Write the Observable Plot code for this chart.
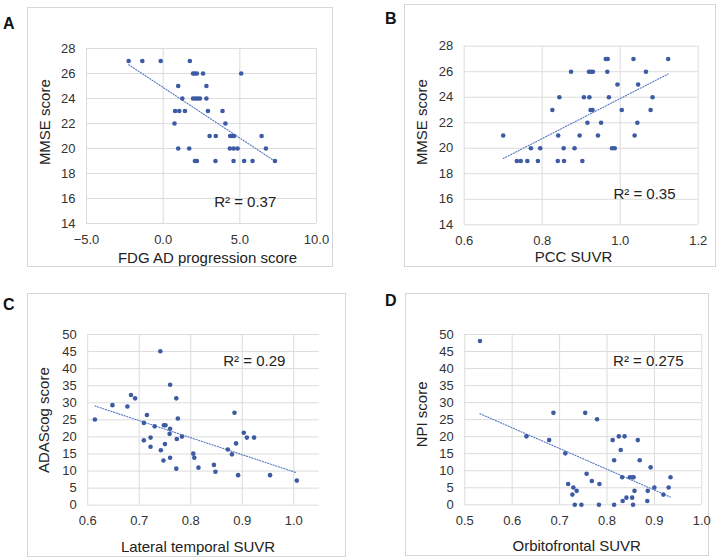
<!DOCTYPE html>
<html>
<head>
<meta charset="utf-8">
<script src="https://cdn.jsdelivr.net/npm/d3@7"></script>
<script src="https://cdn.jsdelivr.net/npm/@observablehq/plot@0.6"></script>
<style>
  html, body { margin: 0; padding: 0; background: #fff; }
  #root { position: relative; width: 724px; height: 560px; overflow: hidden; font-family: "Liberation Sans", Arial, sans-serif; }
  .box { position: absolute; box-sizing: border-box; border: 1.5px solid #d6d6d6; }
  .letter { position: absolute; font-weight: bold; font-size: 16px; line-height: 16px; color: #111; }
  .panel { position: absolute; }
</style>
</head>
<body>
<div id="root"></div>
<script>
// ---------- Data ----------
// Panel A: FDG AD progression score vs MMSE
const aX = [-2.25, -1.36, -0.16, 1.74,
            1.95, 2.05, 2.2, 2.6, 5.09,
            0.98, 2.82,
            1.25, 1.95, 2.1, 2.25, 2.4, 2.82,
            0.78, 1.05, 1.42, 2.92, 3.87,
            0.74, 4.06,
            3.03, 3.43, 4.37, 4.5, 4.62, 6.42,
            0.98, 1.7, 4.35, 4.6, 4.85, 6.7,
            2.07, 2.2, 3.41, 4.59, 5.28, 5.83, 7.29];
const aY = [27, 27, 27, 27,
            26, 26, 26, 26, 26,
            25, 25,
            24, 24, 24, 24, 24, 24,
            23, 23, 23, 23, 23,
            22, 22,
            21, 21, 21, 21, 21, 21,
            20, 20, 20, 20, 20, 20,
            19, 19, 19, 19, 19, 19, 19];

// Panel B: PCC SUVR vs MMSE
const bX = [0.963, 0.968, 1.034, 1.123,
            0.874, 0.920, 0.925, 0.930, 0.967, 1.066,
            0.993, 1.046,
            0.844, 0.907, 0.921, 0.971, 1.083,
            0.826, 0.924, 0.929, 1.004, 1.078,
            0.916, 0.951, 1.044,
            0.700, 0.841, 0.896, 0.943, 1.037,
            0.771, 0.795, 0.855, 0.883, 0.979, 0.986,
            0.735, 0.745, 0.762, 0.789, 0.840, 0.856, 0.903];
const bY = [27, 27, 27, 27,
            26, 26, 26, 26, 26, 26,
            25, 25,
            24, 24, 24, 24, 24,
            23, 23, 23, 23, 23,
            22, 22, 22,
            21, 21, 21, 21, 21,
            20, 20, 20, 20, 20, 20,
            19, 19, 19, 19, 19, 19, 19];

// Panel C: Lateral temporal SUVR vs ADAScog
const cX = [0.614, 0.648, 0.677, 0.684, 0.692, 0.709, 0.715, 0.709, 0.722, 0.722,
            0.730, 0.741, 0.742, 0.747, 0.748, 0.751, 0.750, 0.760, 0.760, 0.759,
            0.760, 0.772, 0.773, 0.772, 0.775, 0.783, 0.805, 0.807, 0.815, 0.845,
            0.848, 0.872, 0.880, 0.885, 0.888, 0.892, 0.903, 0.909, 0.923, 0.954, 1.006];
const cY = [25.1, 29.3, 28.9, 32.3, 31.3, 24.1, 26.4, 19.0, 19.8, 17.1,
            23.1, 45.1, 16.1, 13.1, 23.4, 23.4, 17.9, 35.3, 22.4, 20.9,
            13.9, 31.3, 19.4, 10.7, 25.4, 20.1, 15.1, 13.9, 11.0, 11.8,
            9.8, 16.3, 14.9, 27.1, 18.1, 8.8, 21.2, 19.8, 19.8, 8.8, 7.2];

// Panel D: Orbitofrontal SUVR vs NPI
const dX = [0.532, 0.630, 0.678, 0.687, 0.712, 0.718, 0.729, 0.727, 0.736, 0.732,
            0.746, 0.754, 0.757, 0.768, 0.779, 0.784, 0.783, 0.812, 0.815, 0.815,
            0.825, 0.829, 0.832, 0.833, 0.837, 0.841, 0.848, 0.854, 0.856, 0.853,
            0.855, 0.858, 0.865, 0.869, 0.886, 0.885, 0.892, 0.900, 0.919, 0.930, 0.934];
const dY = [48.1, 20.1, 19.0, 27.0, 15.1, 6.1, 5.1, 3.0, 4.1, 0,
            0, 27.0, 9.1, 7.0, 25.1, 6.1, 0, 19.0, 13.1, 0,
            20.1, 16.1, 8.1, 1.1, 20.1, 2.1, 8.1, 8.1, 8.1, 2.1,
            0, 4.1, 19.0, 13.1, 4.1, 1.1, 11.0, 5.1, 3.0, 5.1, 8.1];

// Axis ticks
const aXTicks = [-5, 0, 5, 10];
const mmseTicks = [14, 16, 18, 20, 22, 24, 26, 28];
const bXTicks = [0.6, 0.8, 1.0, 1.2];
const cXTicks = [0.6, 0.7, 0.8, 0.9, 1.0];
const dXTicks = [0.5, 0.6, 0.7, 0.8, 0.9, 1.0];
const scoreTicks = [0, 5, 10, 15, 20, 25, 30, 35, 40, 45, 50];

// Labels
const panelLetters = ["A", "B", "C", "D"];
const xTitles = ["FDG AD progression score", "PCC SUVR", "Lateral temporal SUVR", "Orbitofrontal SUVR"];
const yTitles = ["MMSE score", "MMSE score", "ADAScog score", "NPI score"];
const r2Labels = ["R² = 0.37", "R² = 0.35", "R² = 0.29", "R² = 0.275"];

// ---------- Layout (positions / styles) ----------
const layout = [
  { box: [27, 7, 306, 260], m: [41, 17, 44, 59], xDom: [-5, 10], yDom: [14, 28], fmt: ".1f",
    xt: [6, 34.7], yt: [-41, -13.8], r2: [158.7, 153.4], letter: [3, 16] },
  { box: [404, 4, 312, 263], m: [41.7, 18.3, 42.7, 59.7], xDom: [0.6, 1.2], yDom: [14, 28], fmt: ".1f",
    xt: [-7.7, 32.4], yt: [-41.7, -13.3], r2: [180.3, 147.6], letter: [385, 11] },
  { box: [27, 293, 319, 264], m: [41, 27, 52.3, 60.2], xDom: [0.6, 1.05], yDom: [0, 50], fmt: ".1f",
    xt: [-5.6, 42.3], yt: [-43.9, 0.3], r2: [166.6, 27], letter: [3, 297] },
  { box: [405, 293, 304, 263], m: [41, 7.7, 51.7, 59.3], xDom: [0.5, 1.0], yDom: [0, 50], fmt: ".1f",
    xt: [-6.6, 41.4], yt: [-42.3, -5.2], r2: [183.5, 27], letter: [385, 293] }
];

const series = [
  { x: aX, y: aY, xTicks: aXTicks, yTicks: mmseTicks },
  { x: bX, y: bY, xTicks: bXTicks, yTicks: mmseTicks },
  { x: cX, y: cY, xTicks: cXTicks, yTicks: scoreTicks },
  { x: dX, y: dY, xTicks: dXTicks, yTicks: scoreTicks }
];

const dotColor = "#3d5ba3";
const lineColor = "#5577c4";
const gridColor = "#dcdcdc";
const textColor = "#333";

const root = document.getElementById("root");

series.forEach((s, i) => {
  const L = layout[i];
  const pts = s.x.map((x, j) => ({ x, y: s.y[j] }));

  const box = document.createElement("div");
  box.className = "box";
  Object.assign(box.style, { left: L.box[0] + "px", top: L.box[1] + "px", width: L.box[2] + "px", height: L.box[3] + "px" });
  root.appendChild(box);

  const letter = document.createElement("div");
  letter.className = "letter";
  letter.textContent = panelLetters[i];
  Object.assign(letter.style, { left: L.letter[0] + "px", top: L.letter[1] + "px" });
  root.appendChild(letter);

  const chart = Plot.plot({
    width: L.box[2],
    height: L.box[3],
    marginTop: L.m[0], marginRight: L.m[1], marginBottom: L.m[2], marginLeft: L.m[3],
    style: { fontFamily: '"Liberation Sans", Arial, sans-serif', fontSize: "13px", color: textColor, background: "transparent", overflow: "visible" },
    x: { domain: L.xDom, ticks: s.xTicks, tickFormat: d3.format(L.fmt), tickSize: 0, tickPadding: 11, label: null },
    y: { domain: L.yDom, ticks: s.yTicks, tickFormat: d3.format("d"), tickSize: 0, tickPadding: 11, label: null },
    marks: [
      Plot.ruleY(s.yTicks, { stroke: gridColor, strokeWidth: 1 }),
      Plot.ruleX(s.xTicks, { stroke: gridColor, strokeWidth: 1 }),
      Plot.linearRegressionY(pts, { x: "x", y: "y", ci: 0, stroke: lineColor, strokeWidth: 1.1, strokeDasharray: "1.2,1.6" }),
      Plot.dot(pts, { x: "x", y: "y", r: 2.3, fill: dotColor, stroke: "none" }),
      Plot.text([r2Labels[i]], { frameAnchor: "top-left", dx: L.r2[0], dy: L.r2[1], text: d => d, fontSize: 15, fill: "#222", textAnchor: "middle", lineAnchor: "middle" }),
      Plot.text([xTitles[i]], { frameAnchor: "bottom", dx: L.xt[0], dy: L.xt[1], text: d => d, fontSize: 15, fill: "#222", textAnchor: "middle", lineAnchor: "middle" }),
      Plot.text([yTitles[i]], { frameAnchor: "left", dx: L.yt[0], dy: L.yt[1], text: d => d, fontSize: 15, fill: "#222", textAnchor: "middle", lineAnchor: "middle", rotate: -90 })
    ]
  });
  chart.classList.add("panel");
  chart.style.left = L.box[0] + "px";
  chart.style.top = L.box[1] + "px";
  root.appendChild(chart);
});
</script>
</body>
</html>
